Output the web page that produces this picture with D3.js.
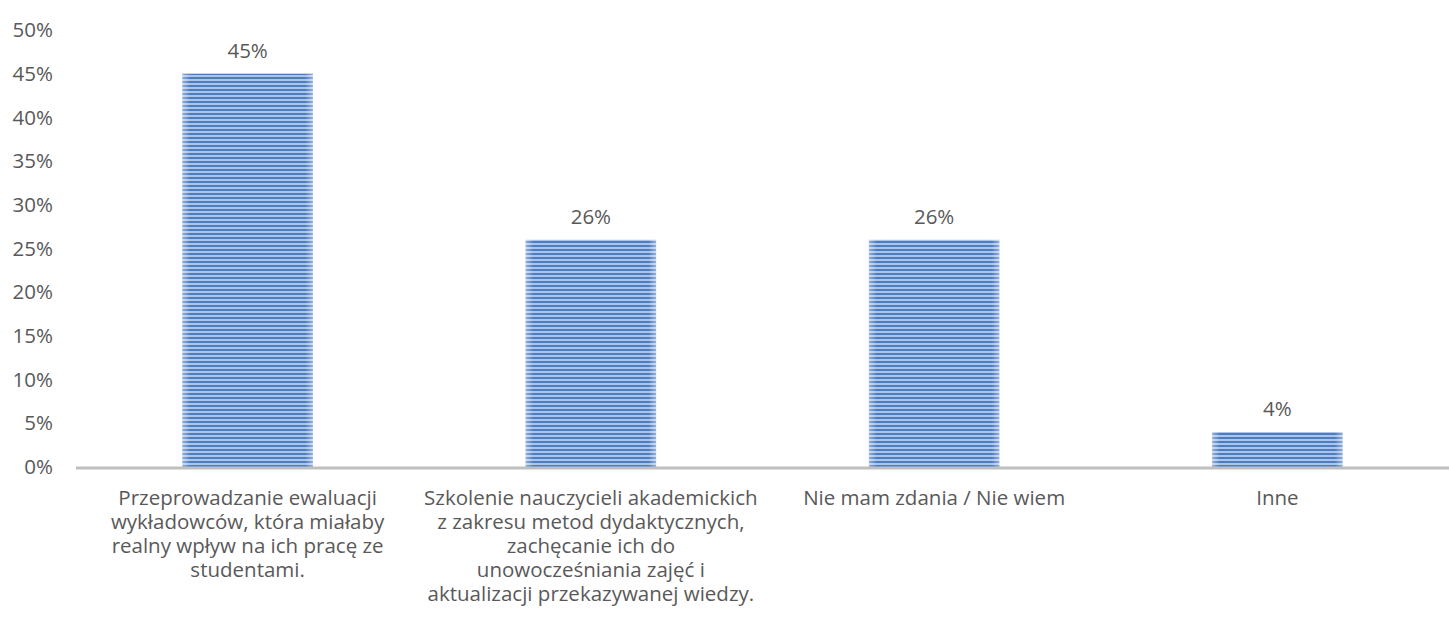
<!DOCTYPE html>
<html>
<head>
<meta charset="utf-8">
<script src="https://cdn.jsdelivr.net/npm/d3@7"></script>
<style>
  body { margin: 0; background: #fff; }
  text { font-family: "Open Sans", Lato, sans-serif; fill: #595959; }
</style>
</head>
<body>
<div id="chartDiv"></div>
<script>
const categories = [
    ['Przeprowadzanie ewaluacji', 'wykładowców, która miałaby', 'realny wpływ na ich pracę ze', 'studentami.'],
    ['Szkolenie nauczycieli akademickich', 'z zakresu metod dydaktycznych,', 'zachęcanie ich do', 'unowocześniania zajęć i', 'aktualizacji przekazywanej wiedzy.'],
    ['Nie mam zdania / Nie wiem'],
    ['Inne']
];
const values = [0.45, 0.26, 0.26, 0.04];
const valueLabels = ['45%', '26%', '26%', '4%'];
const yTicks = [0, 0.05, 0.1, 0.15, 0.2, 0.25, 0.3, 0.35, 0.4, 0.45, 0.5];

const W = 1449, H = 628;
const m = { top: 30, right: 0, bottom: 161, left: 76 };
const fontSize = 20.5;

const svg = d3.select('#chartDiv').append('svg')
    .attr('width', W)
    .attr('height', H);

// striped fill like the original
const defs = svg.append('defs');
const grad = defs.append('linearGradient')
    .attr('id', 'edge')
    .attr('x1', 0).attr('x2', 1).attr('y1', 0).attr('y2', 0);
grad.append('stop').attr('offset', '0%').attr('stop-color', '#fff').attr('stop-opacity', 0.4);
grad.append('stop').attr('offset', '6%').attr('stop-color', '#fff').attr('stop-opacity', 0);
grad.append('stop').attr('offset', '94%').attr('stop-color', '#fff').attr('stop-opacity', 0);
grad.append('stop').attr('offset', '100%').attr('stop-color', '#fff').attr('stop-opacity', 0.4);

const pat = defs.append('pattern')
    .attr('id', 'stripes')
    .attr('patternUnits', 'userSpaceOnUse')
    .attr('width', 8).attr('height', 4);
pat.append('rect').attr('width', 8).attr('height', 4).attr('fill', '#aac4ea');
pat.append('rect').attr('y', 1).attr('width', 8).attr('height', 2).attr('fill', '#4d7cbf');

const x = d3.scaleBand()
    .domain(d3.range(categories.length))
    .range([m.left, W - m.right])
    .paddingInner(0.62)
    .paddingOuter(0.31);

const y = d3.scaleLinear()
    .domain([0, 0.5])
    .range([H - m.bottom, m.top]);

// y axis labels
svg.append('g')
    .selectAll('text')
    .data(yTicks)
    .enter().append('text')
    .attr('x', 53)
    .attr('y', d => y(d))
    .attr('dy', '0.35em')
    .attr('text-anchor', 'end')
    .attr('font-size', fontSize)
    .text(d => d3.format('.0%')(d));

// bars
const bars = svg.append('g');
bars.selectAll('.bar')
    .data(values)
    .enter().append('rect')
    .attr('class', 'bar')
    .attr('x', (d, i) => x(i))
    .attr('y', d => y(d))
    .attr('width', x.bandwidth())
    .attr('height', d => y(0) - y(d))
    .attr('fill', 'url(#stripes)');
bars.selectAll('.edge')
    .data(values)
    .enter().append('rect')
    .attr('class', 'edge')
    .attr('x', (d, i) => x(i))
    .attr('y', d => y(d))
    .attr('width', x.bandwidth())
    .attr('height', d => y(0) - y(d))
    .attr('fill', 'url(#edge)');

// value labels
svg.append('g')
    .selectAll('text')
    .data(values)
    .enter().append('text')
    .attr('x', (d, i) => x(i) + x.bandwidth() / 2)
    .attr('y', d => y(d) - 16)
    .attr('text-anchor', 'middle')
    .attr('font-size', fontSize)
    .text((d, i) => valueLabels[i]);

// x axis line
svg.append('line')
    .attr('x1', m.left)
    .attr('x2', W)
    .attr('y1', y(0) + 1)
    .attr('y2', y(0) + 1)
    .attr('stroke', '#bfbfbf')
    .attr('stroke-width', 3);

// category labels
const catG = svg.append('g')
    .selectAll('text')
    .data(categories)
    .enter().append('text')
    .attr('text-anchor', 'middle')
    .attr('font-size', fontSize);
catG.selectAll('tspan')
    .data((d, i) => d.map(t => ({ t, i })))
    .enter().append('tspan')
    .attr('x', d => x(d.i) + x.bandwidth() / 2)
    .attr('y', (d, j) => y(0) + 38 + j * 24)
    .text(d => d.t);
</script>
</body>
</html>
